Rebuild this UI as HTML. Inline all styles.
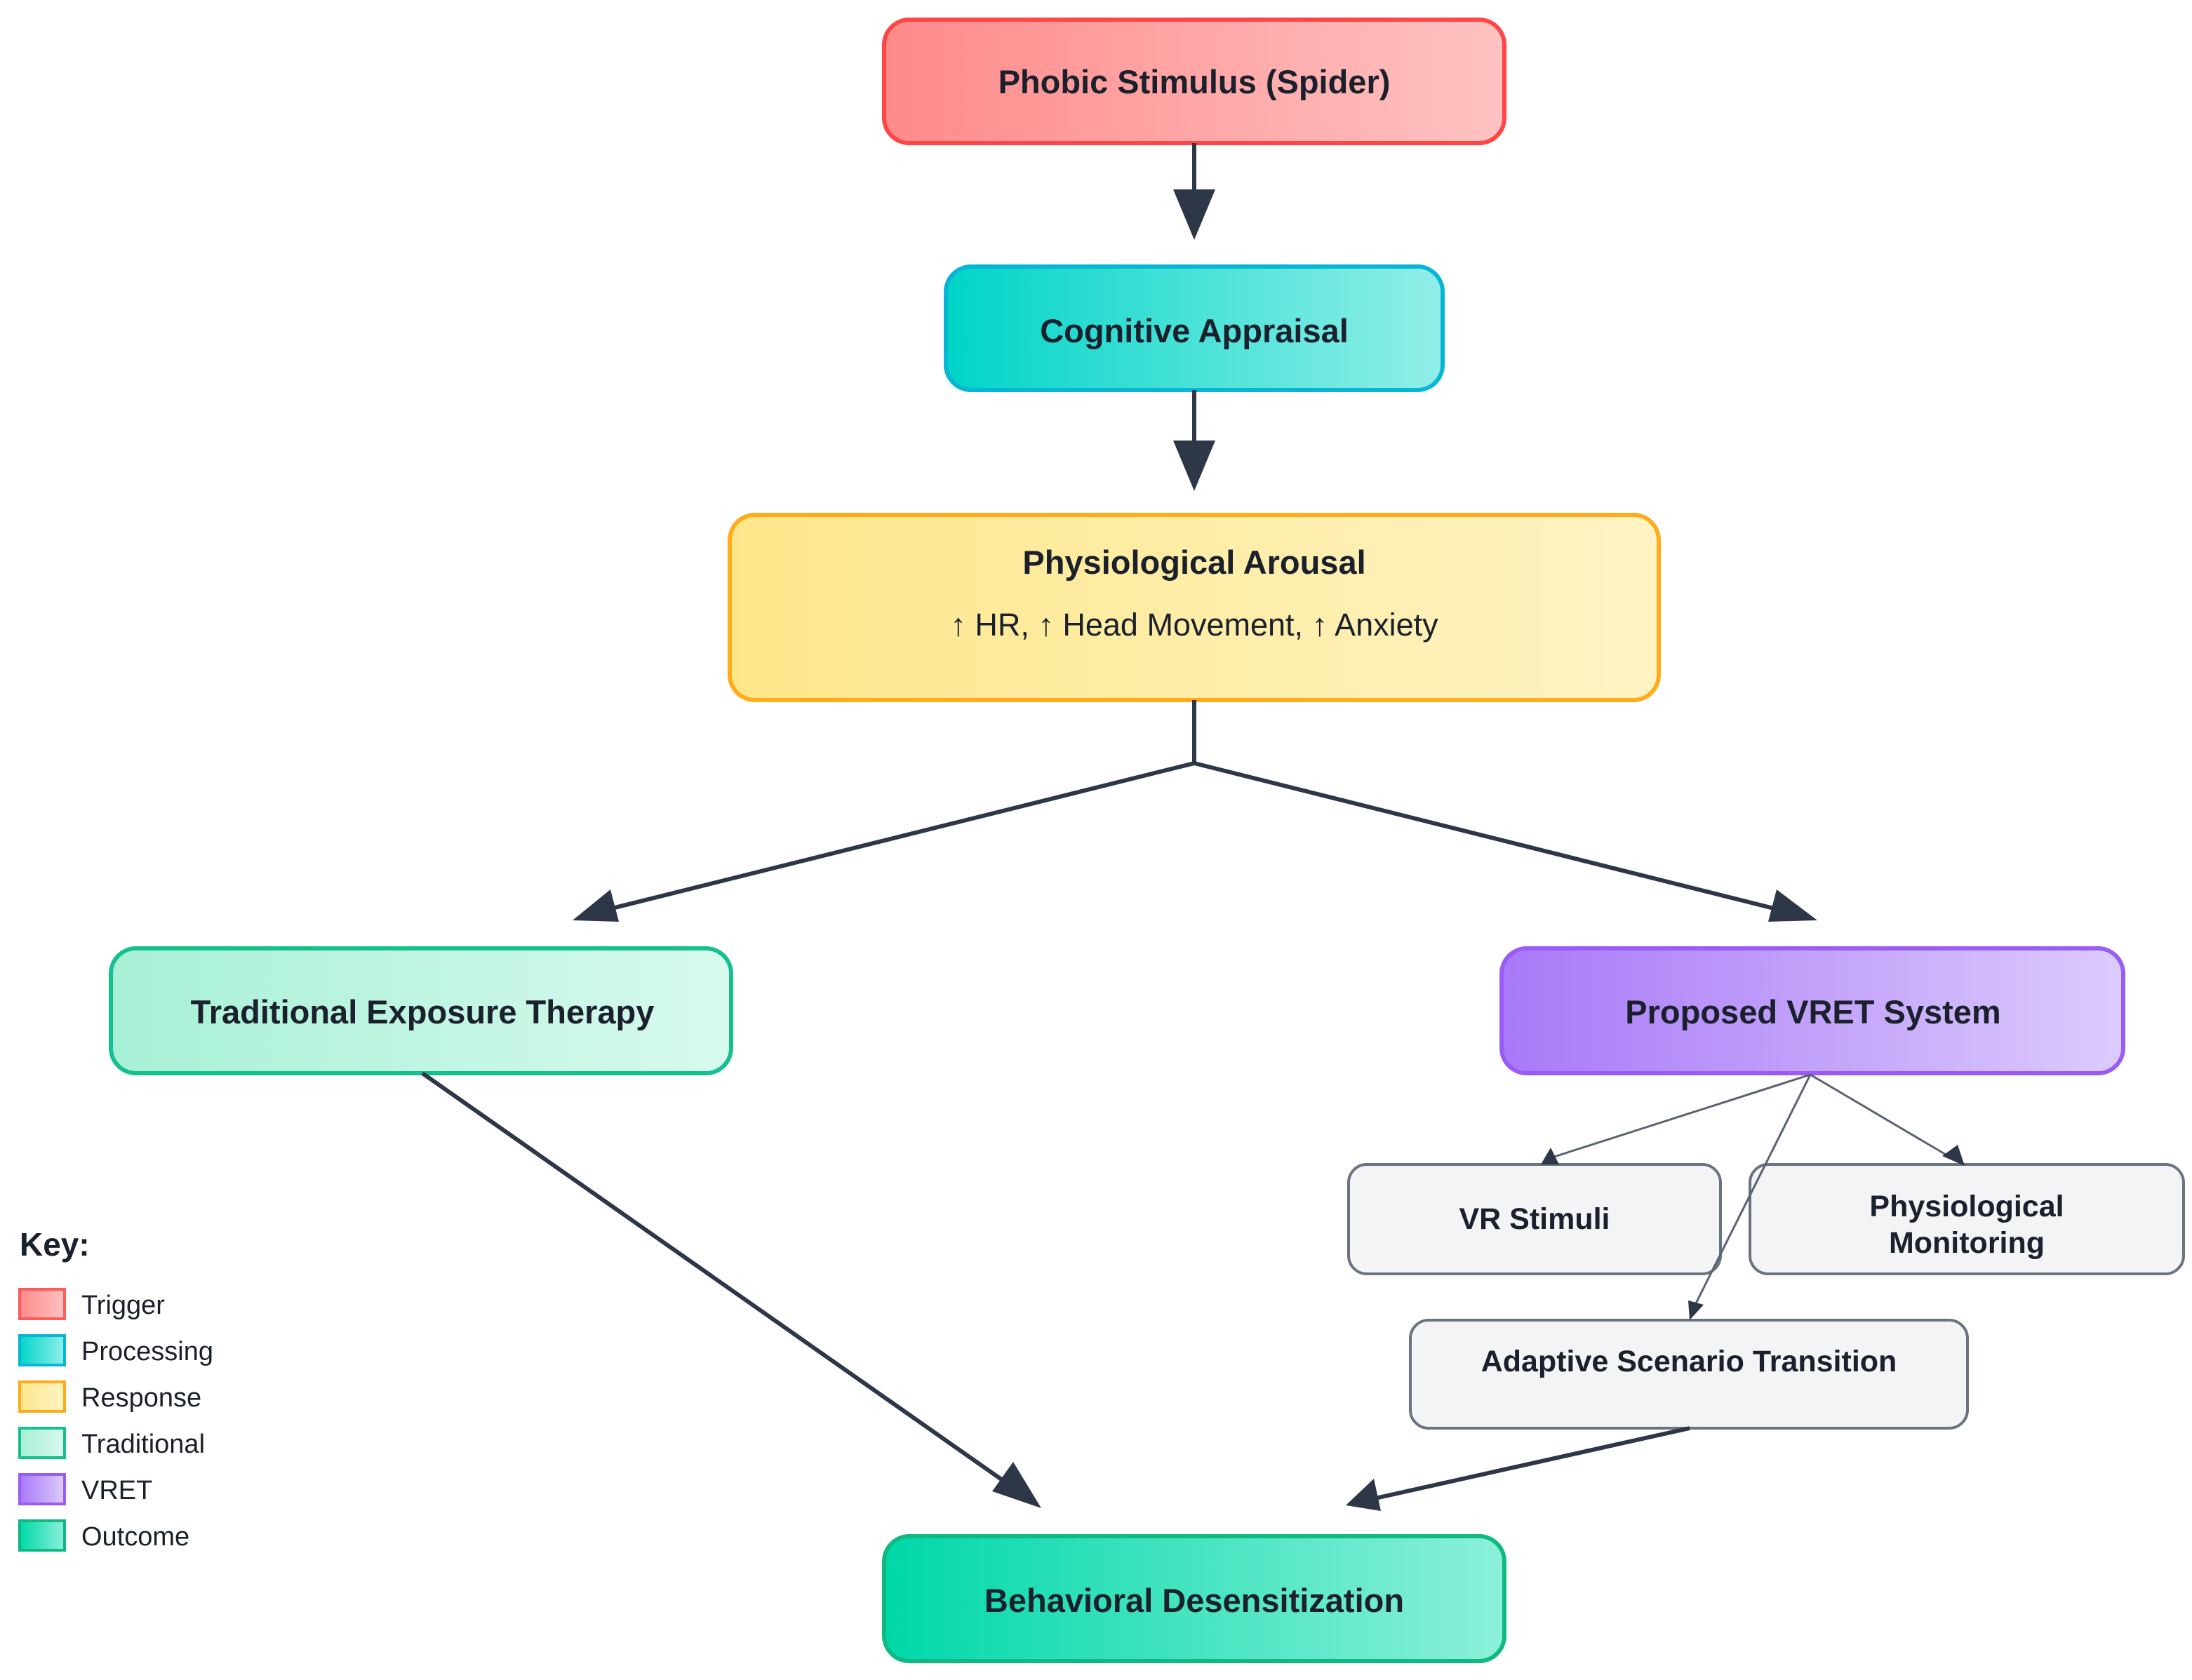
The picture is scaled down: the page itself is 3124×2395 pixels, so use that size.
<!DOCTYPE html>
<html><head><meta charset="utf-8"><style>
body{margin:0;background:#fff;}
svg text{font-family:"Liberation Sans",sans-serif;fill:#1a202c;}
</style></head><body>
<svg width="3124" height="2390" viewBox="0 0 3124 2390" xmlns="http://www.w3.org/2000/svg">
<defs>
<linearGradient id="gr" x1="0" x2="1"><stop offset="0" stop-color="#ff8a8a"/><stop offset="1" stop-color="#ffc2c2"/></linearGradient>
<linearGradient id="gc" x1="0" x2="1"><stop offset="0" stop-color="#00d4c8"/><stop offset="1" stop-color="#92efe8"/></linearGradient>
<linearGradient id="gy" x1="0" x2="1"><stop offset="0" stop-color="#fde68a"/><stop offset="1" stop-color="#fef4c4"/></linearGradient>
<linearGradient id="gt" x1="0" x2="1"><stop offset="0" stop-color="#a7f0d6"/><stop offset="1" stop-color="#d8faee"/></linearGradient>
<linearGradient id="gv" x1="0" x2="1"><stop offset="0" stop-color="#a878f8"/><stop offset="1" stop-color="#dcccfc"/></linearGradient>
<linearGradient id="go" x1="0" x2="1"><stop offset="0" stop-color="#00d8a8"/><stop offset="1" stop-color="#8cf0da"/></linearGradient>
</defs>
<g stroke-width="6">
<rect x="1260" y="28" width="884" height="176" rx="36" fill="url(#gr)" stroke="#ff4545"/>
<rect x="1348" y="380" width="708" height="176" rx="36" fill="url(#gc)" stroke="#06b6d4"/>
<rect x="1040" y="734" width="1324" height="264" rx="36" fill="url(#gy)" stroke="#ffab1a"/>
<rect x="158" y="1352" width="884" height="178" rx="36" fill="url(#gt)" stroke="#14c08f"/>
<rect x="2140" y="1352" width="886" height="178" rx="36" fill="url(#gv)" stroke="#9a5cf5"/>
<rect x="1260" y="2190" width="884" height="178" rx="36" fill="url(#go)" stroke="#10b981"/>
</g>
<g stroke="#6b7280" stroke-width="4" fill="#f3f4f6">
<rect x="1922" y="1660" width="530" height="156" rx="26"/>
<rect x="2494" y="1660" width="618" height="156" rx="26"/>
<rect x="2010" y="1882" width="794" height="154" rx="26"/>
</g>
<g stroke="#2d3748" stroke-width="6" fill="none">
<line x1="1702" y1="204" x2="1702" y2="280"/>
<line x1="1702" y1="556" x2="1702" y2="630"/>
<polyline points="1702,998 1702,1088 860,1298"/>
<line x1="1702" y1="1088" x2="2540" y2="1298"/>
<line x1="602" y1="1530" x2="1440" y2="2118"/>
<line x1="2408" y1="2036" x2="1960" y2="2136"/>
</g>
<g fill="#2d3748">
<polygon points="1672,270 1732,270 1702,342"/>
<polygon points="1672,628 1732,628 1702,700"/>
<polygon points="816,1312 870,1268 882,1314"/>
<polygon points="2590,1312 2520,1314 2532,1268"/>
<polygon points="1484,2150 1414,2126 1444,2084"/>
<polygon points="1918,2146 1958,2108 1968,2154"/>
</g>
<g stroke="#5a6270" stroke-width="3" fill="none">
<line x1="2580" y1="1532" x2="2212" y2="1650"/>
<line x1="2580" y1="1532" x2="2780" y2="1650"/>
<line x1="2580" y1="1532" x2="2416" y2="1860"/>
</g>
<g fill="#2d3748">
<polygon points="2196,1660 2210,1636 2222,1660"/>
<polygon points="2800,1662 2768,1648 2790,1632"/>
<polygon points="2408,1882 2406,1854 2428,1860"/>
</g>
<g font-weight="bold" font-size="47" text-anchor="middle">
<text x="1702" y="133">Phobic Stimulus (Spider)</text>
<text x="1702" y="488">Cognitive Appraisal</text>
<text x="1702" y="818">Physiological Arousal</text>
<text x="602" y="1459">Traditional Exposure Therapy</text>
<text x="2584" y="1459">Proposed VRET System</text>
<text x="1702" y="2298">Behavioral Desensitization</text>
</g>
<text x="1702" y="906" font-size="45" text-anchor="middle">↑ HR, ↑ Head Movement, ↑ Anxiety</text>
<g font-weight="bold" font-size="43" text-anchor="middle">
<text x="2187" y="1752">VR Stimuli</text>
<text x="2803" y="1734">Physiological</text>
<text x="2803" y="1786">Monitoring</text>
<text x="2407" y="1955">Adaptive Scenario Transition</text>
</g>
<text x="28" y="1790" font-size="46" font-weight="bold">Key:</text>
<g stroke-width="4">
<rect x="28" y="1838" width="64" height="42" fill="url(#gr)" stroke="#ff5a5a"/>
<rect x="28" y="1904" width="64" height="42" fill="url(#gc)" stroke="#06b6d4"/>
<rect x="28" y="1970" width="64" height="42" fill="url(#gy)" stroke="#ffab1a"/>
<rect x="28" y="2036" width="64" height="42" fill="url(#gt)" stroke="#14c08f"/>
<rect x="28" y="2102" width="64" height="42" fill="url(#gv)" stroke="#9a5cf5"/>
<rect x="28" y="2168" width="64" height="42" fill="url(#go)" stroke="#10b981"/>
</g>
<g font-size="38">
<text x="116" y="1873">Trigger</text>
<text x="116" y="1939">Processing</text>
<text x="116" y="2005">Response</text>
<text x="116" y="2071">Traditional</text>
<text x="116" y="2137">VRET</text>
<text x="116" y="2203">Outcome</text>
</g>
</svg>
</body></html>
